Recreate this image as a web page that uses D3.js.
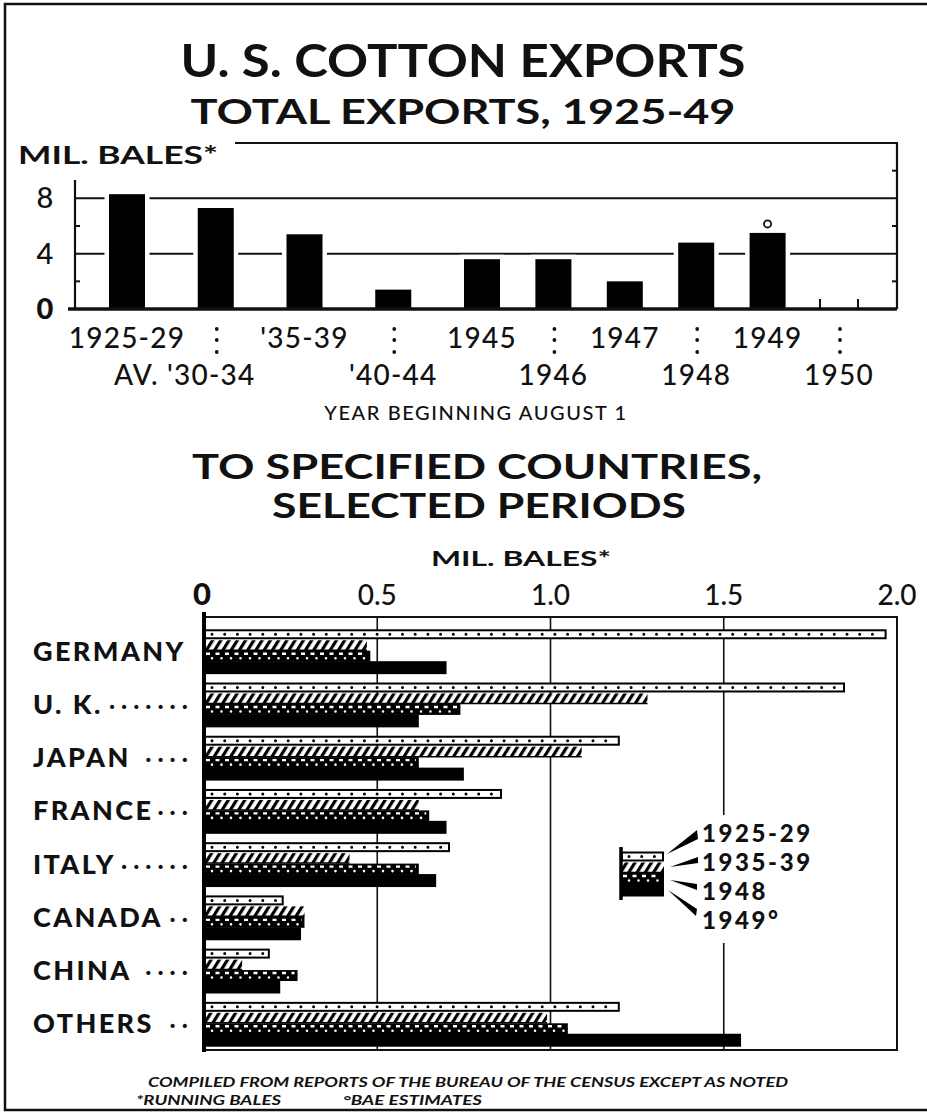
<!DOCTYPE html>
<html>
<head>
<meta charset="utf-8">
<script src="https://cdn.jsdelivr.net/npm/d3@7"></script>
<style>
  body { margin: 0; background: #fff; }
  svg { display: block; }
</style>
</head>
<body>
<div id="vis"></div>
<script>
// total exports, million running bales
var periods = ["1925-29", "AV. '30-34", "'35-39", "'40-44", "1945", "1946", "1947", "1948", "1949", "1950"];
var totals = [8.3, 7.3, 5.4, 1.4, 3.6, 3.6, 2.0, 4.8, 5.5, null];
var topTicks = [0, 4, 8];

// exports to specified countries
var countries = ["GERMANY", "U. K.", "JAPAN", "FRANCE", "ITALY", "CANADA", "CHINA", "OTHERS"];
var leaders = ["", "·······", "····", "···", "······", "··", "····", "··"];
var series = ["1925-29", "1935-39", "1948", "1949°"];
var v1925 = [1.97, 1.85, 1.20, 0.86, 0.71, 0.23, 0.19, 1.20];
var v1935 = [0.47, 1.28, 1.09, 0.62, 0.42, 0.29, 0.11, 0.99];
var v1948 = [0.48, 0.74, 0.62, 0.65, 0.62, 0.29, 0.27, 1.05];
var v1949 = [0.70, 0.62, 0.75, 0.70, 0.67, 0.28, 0.22, 1.55];
var xTicks = [0, 0.5, 1.0, 1.5, 2.0];
var xTickLabels = ["0", "0.5", "1.0", "1.5", "2.0"];

var width = 927,
    height = 1115,
    font = "Lato, 'Open Sans', sans-serif";

var svg = d3.select('#vis')
  .append('svg')
    .attr('width', width)
    .attr('height', height)
    .style('background', '#fff');

var defs = svg.append('defs');
defs.append('pattern')
    .attr('id', 'hatch')
    .attr('patternUnits', 'userSpaceOnUse')
    .attr('width', 7)
    .attr('height', 10)
    .attr('patternTransform', 'rotate(32)')
  .call(function(p) {
    p.append('rect').attr('width', 7).attr('height', 10).attr('fill', '#fff');
    p.append('rect').attr('width', 3.2).attr('height', 10).attr('fill', '#000');
  });

// outer border
svg.append('path')
  .attr('d', 'M927,4 H5 V1110 H927')
  .attr('fill', 'none')
  .attr('stroke', '#111')
  .attr('stroke-width', 2.5);

function title(txt, x, y, size, len, anchor) {
  return svg.append('text')
    .attr('x', x)
    .attr('y', y)
    .attr('text-anchor', anchor || 'middle')
    .attr('font-family', font)
    .attr('font-weight', 700)
    .attr('font-size', size)
    .attr('textLength', len)
    .attr('lengthAdjust', 'spacingAndGlyphs')
    .attr('fill', '#111')
    .text(txt);
}

title("U. S. COTTON EXPORTS", 463, 77, 46, 565);
title("TOTAL EXPORTS, 1925-49", 463, 124, 35, 545);
title("MIL. BALES*", 18, 164, 25, 200, 'start');
title("TO SPECIFIED COUNTRIES,", 477, 479, 34, 570);
title("SELECTED PERIODS", 479, 518, 34, 414);
title("MIL. BALES*", 521, 566, 21, 180);

// ---------- top chart ----------
var yTop = d3.scaleLinear()
  .domain([0, 12])
  .range([309, 143]);

// first four slots are 5-year averages, spaced wider
var xTop = d3.scaleLinear()
  .domain([0, 4, 9])
  .range([127, 482, 839]);

var barW = 36;
var topG = svg.append('g');

// frame
topG.append('path')
  .attr('d', 'M235,' + yTop(12) + ' H897 V' + yTop(0))
  .attr('fill', 'none')
  .attr('stroke', '#111')
  .attr('stroke-width', 2.2);
topG.append('line')
  .attr('x1', 75).attr('x2', 75)
  .attr('y1', 180).attr('y2', yTop(0))
  .attr('stroke', '#111')
  .attr('stroke-width', 2.2);

// grid lines at labelled ticks
topG.selectAll('.grid')
  .data(topTicks.filter(function(d) { return d > 0; }))
  .enter()
  .append('line')
    .attr('x1', 75)
    .attr('x2', 897)
    .attr('y1', function(d) { return yTop(d); })
    .attr('y2', function(d) { return yTop(d); })
    .attr('stroke', '#111')
    .attr('stroke-width', 2);

// minor ticks
[2, 6].forEach(function(d) {
  topG.append('line').attr('x1', 75).attr('x2', 80)
    .attr('y1', yTop(d)).attr('y2', yTop(d))
    .attr('stroke', '#111').attr('stroke-width', 2);
});
[2, 6, 10].forEach(function(d) {
  topG.append('line').attr('x1', 892).attr('x2', 897)
    .attr('y1', yTop(d)).attr('y2', yTop(d))
    .attr('stroke', '#111').attr('stroke-width', 2);
});

topG.selectAll('.ylab')
  .data(topTicks)
  .enter()
  .append('text')
    .attr('x', 45)
    .attr('y', function(d) { return yTop(d) + 10; })
    .attr('text-anchor', 'middle')
    .attr('font-family', font)
    .attr('font-size', 29)
    .attr('font-weight', function(d) { return d === 0 ? 900 : 500; })
    .attr('fill', '#111')
    .text(function(d) { return d; });

topG.selectAll('rect.total')
  .data(totals)
  .enter()
  .append('rect')
    .attr('class', 'total')
    .attr('x', function(d, i) { return xTop(i) - barW / 2; })
    .attr('y', function(d) { return yTop(d || 0); })
    .attr('width', barW)
    .attr('height', function(d) { return yTop(0) - yTop(d || 0); })
    .attr('display', function(d) { return d === null ? 'none' : null; })
    .attr('fill', '#000')
    .attr('stroke', '#fff')
    .attr('stroke-width', 9)
    .style('paint-order', 'stroke');

// baseline
topG.append('line')
  .attr('x1', 68).attr('x2', 897)
  .attr('y1', yTop(0)).attr('y2', yTop(0))
  .attr('stroke', '#111')
  .attr('stroke-width', 3.5);

// empty 1950 slot marks
[-1, 1].forEach(function(s) {
  topG.append('line')
    .attr('x1', xTop(9) + s * (barW / 2 + 1))
    .attr('x2', xTop(9) + s * (barW / 2 + 1))
    .attr('y1', yTop(0)).attr('y2', yTop(0) - 10)
    .attr('stroke', '#111').attr('stroke-width', 2);
});

// estimate mark on 1949
topG.append('circle')
  .attr('cx', xTop(8))
  .attr('cy', yTop(totals[8]) - 9)
  .attr('r', 3.6)
  .attr('fill', 'none')
  .attr('stroke', '#111')
  .attr('stroke-width', 1.8);

// period labels in two rows
topG.selectAll('.plab')
  .data(periods)
  .enter()
  .append('text')
    .attr('x', function(d, i) { return xTop(i) + (i === 1 ? -31 : 0); })
    .attr('y', function(d, i) { return i % 2 === 0 ? 348 : 385; })
    .attr('text-anchor', 'middle')
    .attr('font-family', font)
    .attr('font-size', 28)
    .attr('font-weight', 500)
    .attr('letter-spacing', 1.2)
    .attr('fill', '#111')
    .text(function(d) { return d; });

periods.forEach(function(d, i) {
  if (i % 2 === 1) {
    [329, 340, 352].forEach(function(cy) {
      topG.append('circle')
        .attr('cx', xTop(i) + 1)
        .attr('cy', cy)
        .attr('r', 1.9)
        .attr('fill', '#111');
    });
  }
});

topG.append('text')
  .attr('x', 476)
  .attr('y', 420)
  .attr('text-anchor', 'middle')
  .attr('font-family', font)
  .attr('font-size', 20)
  .attr('font-weight', 500)
  .attr('letter-spacing', 1.6)
  .attr('fill', '#111')
  .text("YEAR BEGINNING AUGUST 1");

// ---------- bottom chart ----------
var xScale = d3.scaleLinear()
  .domain([0, 2])
  .range([204, 897]);

var yScale = d3.scaleBand()
  .domain(countries)
  .range([624, 1050])
  .paddingInner(0.176)
  .paddingOuter(0.09);

var ySub = d3.scaleBand()
  .domain(series)
  .range([0, yScale.bandwidth()]);

var rows = countries.map(function(c, i) {
  return [v1925[i], v1935[i], v1948[i], v1949[i]];
});

var bottom = svg.append('g');

// grid lines
bottom.selectAll('.vgrid')
  .data(xTicks.slice(1, 4))
  .enter()
  .append('line')
    .attr('x1', function(d) { return xScale(d); })
    .attr('x2', function(d) { return xScale(d); })
    .attr('y1', 617)
    .attr('y2', 1050)
    .attr('stroke', '#111')
    .attr('stroke-width', 1.6);

bottom.append('rect')
  .attr('x', xScale(0))
  .attr('y', 617)
  .attr('width', xScale(2) - xScale(0))
  .attr('height', 1050 - 617)
  .attr('fill', 'none')
  .attr('stroke', '#111')
  .attr('stroke-width', 2);

bottom.selectAll('.xlab')
  .data(xTicks)
  .enter()
  .append('text')
    .attr('x', function(d) { return xScale(d) + (d === 0 ? -2 : 0); })
    .attr('y', 605)
    .attr('text-anchor', 'middle')
    .attr('font-family', font)
    .attr('font-size', function(d) { return d === 0 ? 31 : 28; })
    .attr('font-weight', function(d) { return d === 0 ? 900 : 500; })
    .attr('fill', '#111')
    .text(function(d, i) { return xTickLabels[i]; });

// white gap behind legend
bottom.append('rect')
  .attr('x', 612).attr('y', 815)
  .attr('width', 222).attr('height', 128)
  .attr('fill', '#fff');

function drawBar(g, s, x0, x1, y, h) {
  if (s === 0) {
    g.append('rect')
      .attr('x', x0 + 1).attr('y', y + 1.5)
      .attr('width', x1 - x0 - 2).attr('height', h - 3)
      .attr('fill', '#fff').attr('stroke', '#000').attr('stroke-width', 2);
    g.append('line')
      .attr('x1', x0 + 8).attr('x2', x1 - 4)
      .attr('y1', y + h / 2).attr('y2', y + h / 2)
      .attr('stroke', '#000').attr('stroke-width', 3)
      .attr('stroke-linecap', 'round')
      .attr('stroke-dasharray', '0 12.7');
  } else if (s === 1) {
    g.append('rect')
      .attr('x', x0).attr('y', y + 0.5)
      .attr('width', x1 - x0).attr('height', h - 1)
      .attr('fill', 'url(#hatch)');
    g.append('line')
      .attr('x1', x0).attr('x2', x1)
      .attr('y1', y + h - 0.5).attr('y2', y + h - 0.5)
      .attr('stroke', '#000').attr('stroke-width', 1.5);
  } else if (s === 2) {
    g.append('rect')
      .attr('x', x0).attr('y', y)
      .attr('width', x1 - x0).attr('height', h)
      .attr('fill', '#000');
    g.append('line')
      .attr('x1', x0 + 2).attr('x2', x1 - 3)
      .attr('y1', y + 3).attr('y2', y + 3)
      .attr('stroke', '#fff').attr('stroke-width', 2.4)
      .attr('stroke-dasharray', '4 5.5');
    g.append('line')
      .attr('x1', x0 + 8).attr('x2', x1 - 3)
      .attr('y1', y + 7.5).attr('y2', y + 7.5)
      .attr('stroke', '#fff').attr('stroke-width', 2.6)
      .attr('stroke-linecap', 'round')
      .attr('stroke-dasharray', '0 9.5');
  } else {
    g.append('rect')
      .attr('x', x0).attr('y', y - 0.5)
      .attr('width', x1 - x0).attr('height', h + 2)
      .attr('fill', '#000');
  }
}

var groups = bottom.selectAll('.grp')
  .data(rows)
  .enter()
  .append('g')
    .attr('class', 'grp');

groups.each(function(vals, i) {
  var g = d3.select(this);
  vals.forEach(function(v, s) {
    drawBar(g, s, xScale(0), xScale(v), yScale(countries[i]) + ySub(series[s]), ySub.bandwidth());
  });
});

// thick left axis
bottom.append('line')
  .attr('x1', xScale(0)).attr('x2', xScale(0))
  .attr('y1', 612).attr('y2', 1052)
  .attr('stroke', '#000')
  .attr('stroke-width', 4);

// country labels with dot leaders
bottom.selectAll('.clab')
  .data(countries)
  .enter()
  .append('text')
    .attr('x', 33)
    .attr('y', function(d) { return yScale(d) + yScale.bandwidth() / 2 + 10; })
    .attr('font-family', font)
    .attr('font-size', 27)
    .attr('font-weight', 900)
    .attr('letter-spacing', 2.4)
    .attr('fill', '#111')
    .text(function(d) { return d; });

bottom.selectAll('.lead')
  .data(leaders)
  .enter()
  .append('text')
    .attr('x', 194)
    .attr('y', function(d, i) { return yScale(countries[i]) + yScale.bandwidth() / 2 + 9; })
    .attr('text-anchor', 'end')
    .attr('font-family', font)
    .attr('font-size', 20)
    .attr('font-weight', 900)
    .attr('letter-spacing', 6.5)
    .attr('fill', '#111')
    .text(function(d) { return d; });

// legend
var legY = d3.scaleBand()
  .domain(series)
  .range([851, 895]);

var leg = bottom.append('g');
series.forEach(function(s, i) {
  drawBar(leg, i, 621, 664, legY(s), legY.bandwidth());
});
leg.append('line')
  .attr('x1', 621).attr('x2', 621)
  .attr('y1', 847).attr('y2', 900)
  .attr('stroke', '#000').attr('stroke-width', 3.5);

var legText = [833, 862, 891, 920];
var wedges = [
  [[667, 854], [697, 830], [698, 839]],
  [[670, 867], [698, 857], [698, 863]],
  [[670, 880], [697, 884], [697, 890]],
  [[668, 890], [697, 909], [696, 916]]
];

leg.selectAll('.wedge')
  .data(wedges)
  .enter()
  .append('path')
    .attr('d', function(d) { return d3.line()(d) + 'Z'; })
    .attr('fill', '#000');

leg.selectAll('.ltxt')
  .data(series)
  .enter()
  .append('text')
    .attr('x', 702)
    .attr('y', function(d, i) { return legText[i] + 9; })
    .attr('font-family', font)
    .attr('font-size', 24)
    .attr('font-weight', 900)
    .attr('letter-spacing', 2.6)
    .attr('fill', '#111')
    .text(function(d) { return d; });

// notes
function note(txt, x, y, len, anchor) {
  svg.append('text')
    .attr('x', x)
    .attr('y', y)
    .attr('text-anchor', anchor || 'start')
    .attr('font-family', font)
    .attr('font-style', 'italic')
    .attr('font-weight', 700)
    .attr('font-size', 13.5)
    .attr('textLength', len)
    .attr('lengthAdjust', 'spacingAndGlyphs')
    .attr('fill', '#111')
    .text(txt);
}
note("COMPILED FROM REPORTS OF THE BUREAU OF THE CENSUS EXCEPT AS NOTED", 468, 1087, 640, 'middle');
note("*RUNNING BALES", 136, 1105, 145);
note("°BAE ESTIMATES", 343, 1105, 139);
</script>
</body>
</html>
